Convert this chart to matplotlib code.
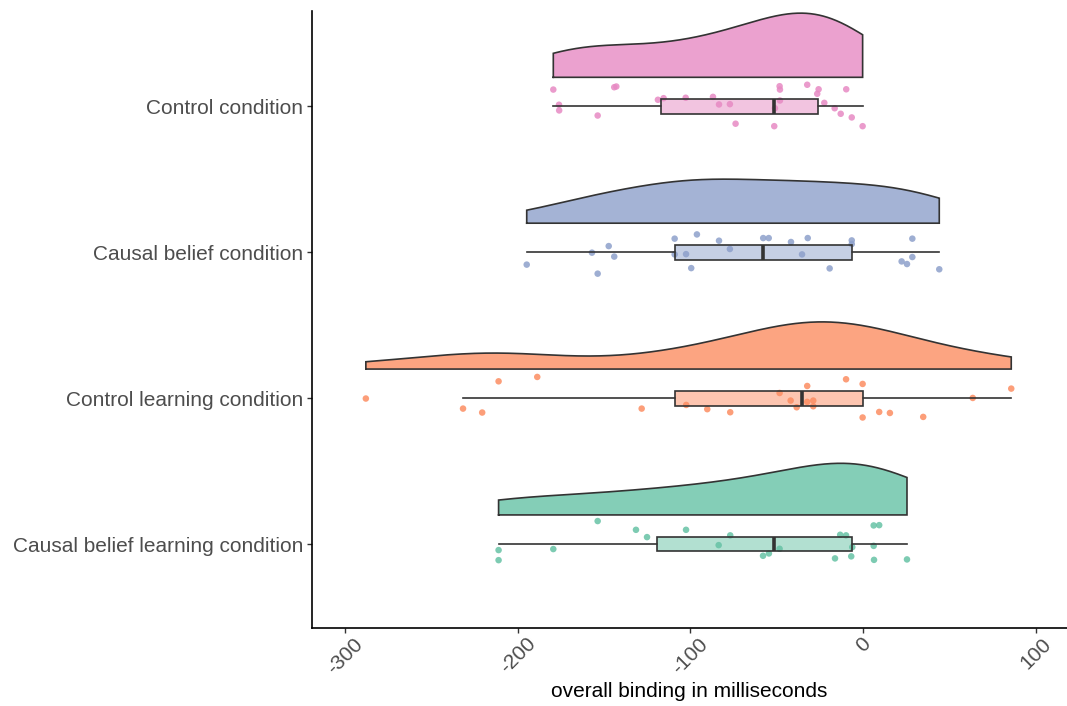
import numpy as np
import matplotlib
matplotlib.use("Agg")
import matplotlib.pyplot as plt
from matplotlib.patches import Rectangle

plt.rcParams["font.family"] = ["Liberation Sans", "DejaVu Sans"]

# Conditions, bottom to top
conditions = [
    "Causal belief learning condition",
    "Control learning condition",
    "Causal belief condition",
    "Control condition",
]
colors = ["#66C2A5", "#FC8D62", "#8DA0CB", "#E78AC3"]

# Overall binding (ms) per participant
cbl_values = [-211.1, -211.1, -179.4, -153.7, -131.5, -125.1, -102.5, -83.6, -76.9,
              -57.9, -54.5, -48.3, -16.2, -13.2, -9.8, -6.8, -6.2, 6.2, 9.4, 6.2, 6.4, 25.5]
cl_values = [-288.0, -231.7, -220.6, -211.1, -188.7, -128.2, -102.4, -90.2, -76.9,
             -48.3, -41.9, -38.4, -32.3, -32.3, -28.8, -28.8, -9.8, -0.2, -0.2, 9.4,
             15.6, 34.9, 63.6, 85.9]
cb_values = [-194.8, -157.0, -153.7, -147.3, -144.1, -109.1, -109.1, -102.5, -99.5,
             -96.2, -83.4, -77.1, -57.8, -54.6, -41.7, -35.3, -32.0, -19.3, -6.5, -6.5,
             22.4, 25.5, 28.6, 28.6, 44.2]
c_values = [-179.4, -176.1, -176.0, -153.7, -144.1, -142.9, -118.8, -115.5, -102.7,
            -86.9, -83.4, -77.1, -73.8, -51.4, -51.0, -48.3, -48.1, -48.1, -32.3, -26.5,
            -25.7, -22.4, -16.4, -12.9, -9.7, -6.5, -0.2]

# Vertical jitter of each point around its condition line
cbl_jitter = [-0.041, -0.110, -0.034, 0.158, 0.098, 0.048, 0.098, -0.007, 0.060, -0.080,
              -0.064, -0.032, -0.098, 0.064, 0.060, -0.084, -0.021, 0.128, 0.130, -0.012,
              -0.108, -0.105]
cl_jitter = [-0.002, -0.071, -0.098, 0.116, 0.146, -0.071, -0.046, -0.075, -0.096, 0.036,
             -0.016, -0.062, 0.084, -0.025, -0.016, -0.055, 0.130, 0.098, -0.132, -0.094,
             -0.101, -0.128, 0.002, 0.066]
cb_jitter = [-0.084, -0.002, -0.146, 0.043, -0.029, 0.094, -0.014, -0.012, -0.108, 0.123,
             0.080, 0.023, 0.098, 0.098, 0.071, -0.014, 0.098, -0.110, 0.082, 0.057,
             -0.062, -0.080, 0.094, -0.032, -0.116]
c_jitter = [0.116, 0.012, -0.027, -0.062, 0.132, 0.137, 0.046, 0.057, 0.060, 0.066, 0.014,
            0.016, -0.118, -0.135, -0.012, 0.139, 0.116, 0.041, 0.149, 0.087, 0.118, 0.025,
            -0.012, -0.050, 0.118, -0.075, -0.135]

values = [cbl_values, cl_values, cb_values, c_values]
jitters = [cbl_jitter, cl_jitter, cb_jitter, c_jitter]

x_ticks = [-300, -200, -100, 0, 100]
x_label = "overall binding in milliseconds"

BW_ADJUST = 1.05
VIOLIN_NUDGE = 0.2
VIOLIN_HEIGHT = 0.44
BOX_WIDTH = 0.1
EDGE = "#333333"


def nrd0(x):
    x = np.asarray(x)
    sd = np.std(x, ddof=1)
    q75, q25 = np.percentile(x, [75, 25])
    lo = min(sd, (q75 - q25) / 1.34)
    return 0.9 * lo * len(x) ** -0.2


def kde(x, grid, bw):
    x = np.asarray(x)[:, None]
    z = (grid[None, :] - x) / bw
    return np.exp(-0.5 * z ** 2).sum(axis=0) / (len(x) * bw * np.sqrt(2 * np.pi))


fig = plt.figure(figsize=(10.67, 7.06), dpi=100)
ax = fig.add_axes([0.2924, 0.1105, 0.7076, 0.874])

# densities (scaled by the common maximum so areas are comparable)
grids, dens = [], []
for v in values:
    g = np.linspace(min(v), max(v), 512)
    grids.append(g)
    dens.append(kde(v, g, nrd0(v) * BW_ADJUST))
dmax = max(d.max() for d in dens)

for i, (v, jit, col) in enumerate(zip(values, jitters, colors)):
    pos = i + 1
    base = pos + VIOLIN_NUDGE
    g, d = grids[i], dens[i]
    top = base + d / dmax * VIOLIN_HEIGHT
    xs = np.concatenate([[g[0]], g, [g[-1]]])
    ys = np.concatenate([[base], top, [base]])
    ax.fill(xs, ys, facecolor=col, alpha=0.8, edgecolor="none", zorder=1)
    ax.plot(np.append(xs, xs[0]), np.append(ys, ys[0]), color=EDGE, lw=1.2,
            solid_joinstyle="miter", zorder=2)

    # jittered raw points
    ax.scatter(v, pos + np.asarray(jit), s=22, color=col, alpha=0.85,
               edgecolors="none", zorder=3)

    # boxplot
    q1, med, q3 = np.percentile(v, [25, 50, 75])
    iqr = q3 - q1
    arr = np.asarray(v)
    lo_w = arr[arr >= q1 - 1.5 * iqr].min()
    hi_w = arr[arr <= q3 + 1.5 * iqr].max()
    ax.plot([lo_w, q1], [pos, pos], color=EDGE, lw=1.2, zorder=4)
    ax.plot([q3, hi_w], [pos, pos], color=EDGE, lw=1.2, zorder=4)
    ax.add_patch(Rectangle((q1, pos - BOX_WIDTH / 2), iqr, BOX_WIDTH,
                           facecolor=col, alpha=0.5, edgecolor="none", zorder=4))
    ax.add_patch(Rectangle((q1, pos - BOX_WIDTH / 2), iqr, BOX_WIDTH,
                           facecolor="none", edgecolor=EDGE, lw=1.2, zorder=5))
    ax.plot([med, med], [pos - BOX_WIDTH / 2, pos + BOX_WIDTH / 2], color=EDGE,
            lw=2.6, solid_capstyle="butt", zorder=6)

ax.set_xlim(-319.2, 118.2)
ax.set_ylim(0.425, 4.655)
ax.set_yticks([1, 2, 3, 4])
ax.set_yticklabels(conditions, fontsize=15, color="#4D4D4D")
ax.set_xticks(x_ticks)
ax.set_xticklabels([str(t) for t in x_ticks], fontsize=15, color="#4D4D4D",
                   rotation=45, ha="center", va="top")
ax.set_xlabel(x_label, fontsize=15, color="black", labelpad=3)
ax.tick_params(axis="y", length=3.5, width=1.0, color="#333333", pad=3)
ax.tick_params(axis="x", length=3.5, width=1.0, color="#333333", pad=1)
for s in ["top", "right"]:
    ax.spines[s].set_visible(False)
for s in ["left", "bottom"]:
    ax.spines[s].set_linewidth(1.2)
    ax.spines[s].set_color("black")

fig.savefig("out.png", dpi=100)
